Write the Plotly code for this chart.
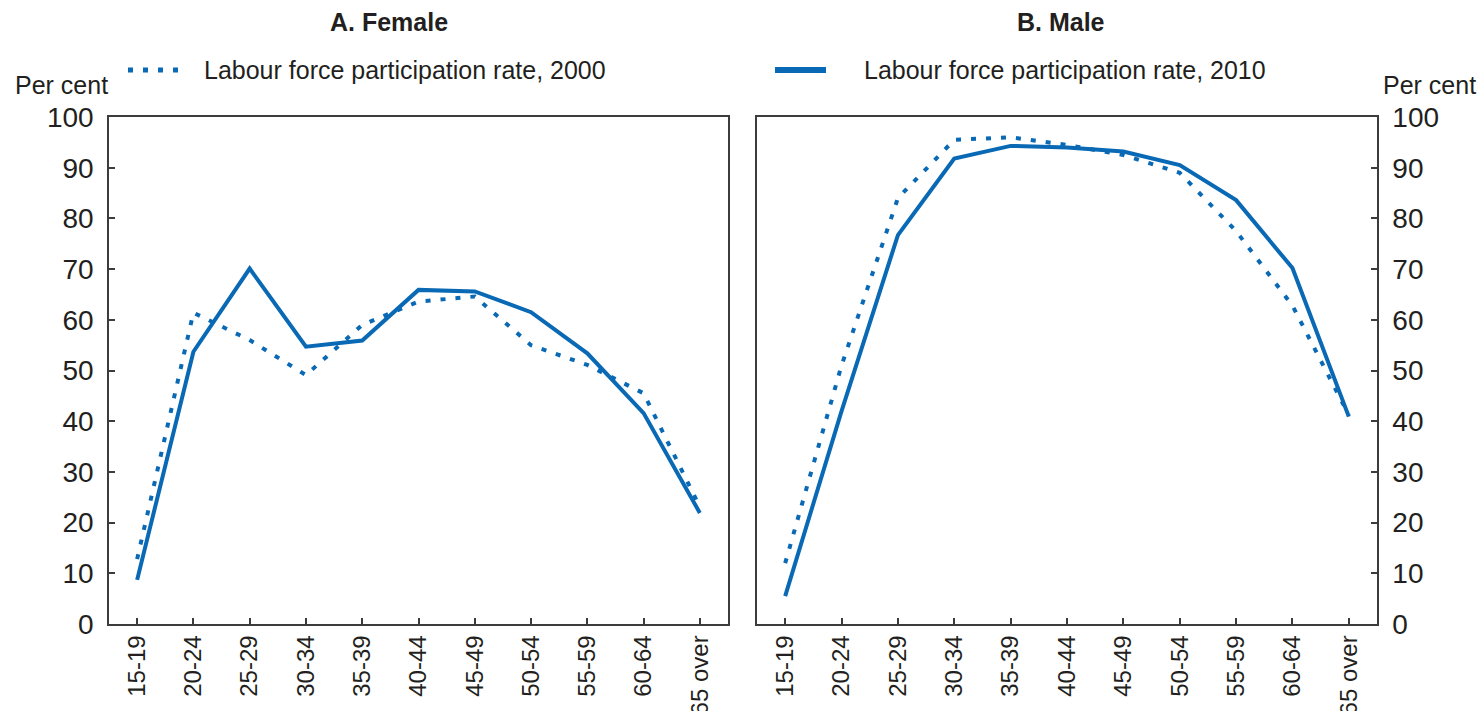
import plotly.graph_objects as go

# Age groups and labour force participation rates (per cent)
ages = ["15-19", "20-24", "25-29", "30-34", "35-39", "40-44",
        "45-49", "50-54", "55-59", "60-64", "65 over"]
female_2000 = [12.8, 61.4, 56.0, 49.1, 59.0, 63.6, 64.6, 55.0, 51.1, 45.5, 23.1]
female_2010 = [8.7, 53.7, 70.1, 54.7, 55.9, 65.9, 65.6, 61.5, 53.4, 41.6, 21.9]
male_2000 = [12.0, 51.0, 84.0, 95.5, 96.0, 94.5, 92.5, 89.0, 77.5, 62.8, 41.2]
male_2010 = [5.5, 42.0, 76.7, 91.8, 94.3, 94.0, 93.2, 90.5, 83.6, 70.2, 40.9]
y_ticks = list(range(0, 101, 10))

label_2000 = "Labour force participation rate, 2000"
label_2010 = "Labour force participation rate, 2010"

W, H = 1482, 711
BLUE = "#0a69b5"
INK = "#231f20"
FRAME = "#3c3c3c"
FONT = "Liberation Sans, Arial, sans-serif"
DOT = "5px,10px"


def px(x):
    return x / W


def py(y):
    return 1 - y / H


fig = go.Figure()

# Panel A: female
fig.add_trace(go.Scatter(x=ages, y=female_2000, mode="lines", name=label_2000,
                         line=dict(color=BLUE, width=4, dash=DOT),
                         xaxis="x", yaxis="y", showlegend=False))
fig.add_trace(go.Scatter(x=ages, y=female_2010, mode="lines", name=label_2010,
                         line=dict(color=BLUE, width=4),
                         xaxis="x", yaxis="y", showlegend=False))
# Panel B: male
fig.add_trace(go.Scatter(x=ages, y=male_2000, mode="lines", name=label_2000,
                         line=dict(color=BLUE, width=4, dash=DOT),
                         xaxis="x2", yaxis="y2", showlegend=False))
fig.add_trace(go.Scatter(x=ages, y=male_2010, mode="lines", name=label_2010,
                         line=dict(color=BLUE, width=4),
                         xaxis="x2", yaxis="y2", showlegend=False))

xa = dict(type="category", categoryorder="array", categoryarray=ages,
          range=[-0.5, 10.5], tickangle=-90, ticks="inside", ticklen=6,
          tickwidth=1.5, tickcolor=FRAME, showline=True, mirror=True,
          linecolor=FRAME, linewidth=1.5, showgrid=False, zeroline=False,
          tickfont=dict(size=24, color=INK, family=FONT), fixedrange=True,
          automargin=False)
ya = dict(range=[0, 100], tickvals=y_ticks, ticks="inside", ticklen=6,
          tickwidth=1.5, tickcolor=FRAME, showline=True, mirror=True,
          linecolor=FRAME, linewidth=1.5, showgrid=False, zeroline=False,
          tickfont=dict(size=28, color=INK, family=FONT), fixedrange=True,
          ticklabelstandoff=8, automargin=False)

y_dom = [py(624), py(117)]
fig.update_layout(
    width=W, height=H,
    margin=dict(l=0, r=0, t=0, b=0, pad=0),
    paper_bgcolor="white", plot_bgcolor="white",
    font=dict(family=FONT, color=INK),
    showlegend=False,
    xaxis=dict(xa, domain=[px(109), px(728)], anchor="y"),
    yaxis=dict(ya, domain=y_dom, anchor="x", side="left"),
    xaxis2=dict(xa, domain=[px(757), px(1377)], anchor="y2"),
    yaxis2=dict(ya, domain=y_dom, anchor="x2", side="right"),
)

# Legend keys drawn in the panel headers
fig.add_shape(type="line", xref="paper", yref="paper",
              x0=px(128), x1=px(180), y0=py(70), y1=py(70),
              line=dict(color=BLUE, width=5, dash="5px,10px"))
fig.add_shape(type="line", xref="paper", yref="paper",
              x0=px(775), x1=px(826), y0=py(70), y1=py(70),
              line=dict(color=BLUE, width=6))

annotations = [
    dict(text="<b>A. Female</b>", x=px(389), y=py(22), size=25, xanchor="center"),
    dict(text="<b>B. Male</b>", x=px(1061), y=py(22), size=25, xanchor="center"),
    dict(text=label_2000, x=px(202), y=py(70), size=25, xanchor="left"),
    dict(text=label_2010, x=px(862), y=py(70), size=25, xanchor="left"),
    dict(text="Per cent", x=px(13), y=py(85), size=25, xanchor="left"),
    dict(text="Per cent", x=px(1381), y=py(85), size=25, xanchor="left"),
]
for a in annotations:
    fig.add_annotation(text=a["text"], x=a["x"], y=a["y"], xref="paper", yref="paper",
                       xanchor=a["xanchor"], yanchor="middle", showarrow=False,
                       font=dict(size=a["size"], color=INK, family=FONT))

fig.write_html("out.html", config={"displayModeBar": False})
